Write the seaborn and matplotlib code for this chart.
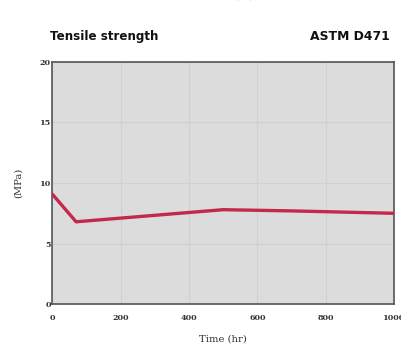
import matplotlib
matplotlib.use("Agg")
import matplotlib.pyplot as plt
import seaborn as sns
import pandas as pd

# Tensile strength retention over immersion time
hours = [0, 70, 500, 700, 1000]
strength_mpa = [9.1, 6.8, 7.8, 7.7, 7.5]
x_ticks = [0, 200, 400, 600, 800, 1000]
y_ticks = [0, 5, 10, 15, 20]

df = pd.DataFrame({"Time (hr)": hours, "MPa": strength_mpa})

sns.set_theme(style="white")
plt.rcParams["font.family"] = ["DejaVu Sans"]

fig = plt.figure(figsize=(4.01, 3.52), dpi=100)
ax = fig.add_axes([0.130, 0.136, 0.853, 0.688])
ax.set_facecolor("#dcdcdc")

sns.lineplot(data=df, x="Time (hr)", y="MPa", ax=ax, color="#c4284a",
             linewidth=2.4, zorder=3)

ax.set_xlim(0, 1000)
ax.set_ylim(0, 20)
ax.set_xticks(x_ticks)
ax.set_yticks(y_ticks)
ax.grid(True, color="#d0d0d0", linewidth=0.8, zorder=0)
for s in ax.spines.values():
    s.set_color("#555555")
    s.set_linewidth(1.2)

ax.tick_params(axis="both", length=0, labelsize=5.8, colors="#333333")
for lbl in ax.get_xticklabels() + ax.get_yticklabels():
    lbl.set_family("DejaVu Serif")
    lbl.set_fontweight("bold")
ax.tick_params(axis="y", pad=1)
ax.tick_params(axis="x", pad=7)

ax.set_xlabel("Time (hr)", family="DejaVu Serif", fontsize=7.2, color="#333333",
              labelpad=9)
ax.set_ylabel("(MPa)", family="DejaVu Serif", fontsize=7.2, color="#333333",
              labelpad=12)

fig.text(0.125, 0.895, "Tensile strength", fontsize=8.6, fontweight="bold",
         color="#111111", ha="left", va="center")
fig.text(0.972, 0.895, "ASTM D471", fontsize=8.9, fontweight="bold",
         color="#111111", ha="right", va="center")
# axis title of the chart above, clipped at the top edge
fig.text(0.575, 1.012, "Time (hr)", family="DejaVu Serif", fontsize=7,
         color="#333333", ha="center", va="center")

fig.savefig("out.png", dpi=100)
